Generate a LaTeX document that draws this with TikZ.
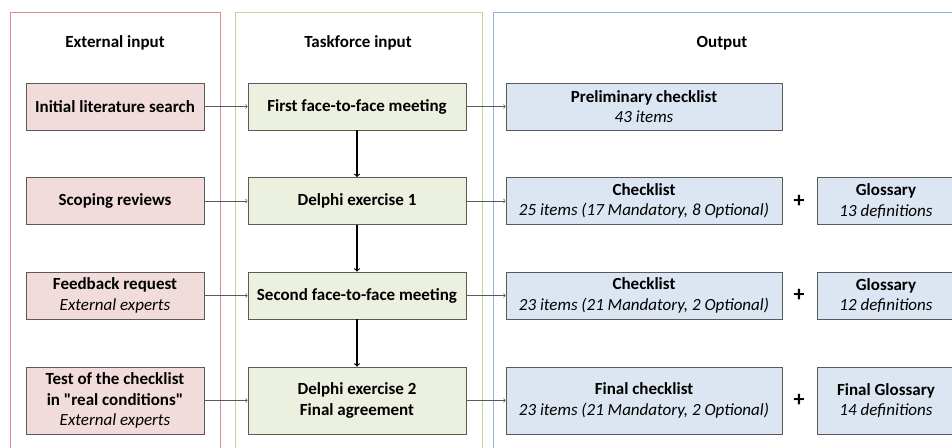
\documentclass[tikz,border=0pt]{standalone}
\usepackage{fontspec}
\setmainfont{Carlito}
\usetikzlibrary{arrows}

\definecolor{extfill}{HTML}{F2DCDB}
\definecolor{extline}{HTML}{E08A8C}
\definecolor{tskfill}{HTML}{EBF1DE}
\definecolor{tskline}{HTML}{C3D69B}
\definecolor{outfill}{HTML}{DCE6F2}
\definecolor{outline}{HTML}{95B3D7}
\definecolor{boxline}{HTML}{595959}

\newcommand{\boxfont}{\fontsize{17}{20.5}\selectfont}

\begin{document}
\begin{tikzpicture}[x=1pt, y=1pt,
  panel/.style={line width=0.8pt},
  head/.style={font=\bfseries\boxfont},
  extbox/.style={draw=boxline, fill=extfill, line width=0.8pt, minimum width=178pt, minimum height=47pt, inner sep=0pt, align=center, font=\boxfont},
  tskbox/.style={draw=boxline, fill=tskfill, line width=0.8pt, minimum width=218pt, minimum height=47pt, inner sep=0pt, align=center, font=\bfseries\boxfont},
  outbox/.style={draw=boxline, fill=outfill, line width=0.8pt, minimum width=276pt, minimum height=47pt, inner sep=0pt, align=center, font=\boxfont},
  globox/.style={outbox, minimum width=138pt},
  plus/.style={font=\bfseries\fontsize{22}{22}\selectfont},
  feed/.style={->, draw=boxline, line width=0.6pt}]
  \useasboundingbox (0,0) rectangle (952,447);
  \clip (0,0) rectangle (952,447);

  % columns
  \draw[panel, draw=extline] (10,-5) rectangle (220,435);
  \draw[panel, draw=tskline] (235,-5) rectangle (482,435);
  \draw[panel, draw=outline] (493,-5) rectangle (970,435);

  \node[head] (h1) at (115,404) {External input};
  \node[head] (h2) at (358,404) {Taskforce input};
  \node[head] (h3) at (722,404) {Output};

  % external input
  \node[extbox] (e1) at (115,340.5) {\textbf{Initial literature search}};
  \node[extbox] (e2) at (115,246) {\textbf{Scoping reviews}};
  \node[extbox] (e3) at (115,151.5) {\textbf{Feedback request}\\\textit{External experts}};
  \node[extbox, minimum height=67pt] (e4) at (115,46.5) {\textbf{Test of the checklist}\\\textbf{in \textquotedbl real conditions\textquotedbl}\\\textit{External experts}};

  % taskforce input
  \node[tskbox] (t1) at (357,340.5) {First face-to-face meeting};
  \node[tskbox] (t2) at (357,246) {Delphi exercise 1};
  \node[tskbox] (t3) at (357,151.5) {Second face-to-face meeting};
  \node[tskbox, minimum height=67pt] (t4) at (357,46.5) {Delphi exercise 2\\Final agreement};

  % output
  \node[outbox] (o1) at (644,340.5) {\textbf{Preliminary checklist}\\\textit{43 items}};
  \node[outbox] (o2) at (644,246) {\textbf{Checklist}\\\textit{25 items (17 Mandatory, 8 Optional)}};
  \node[outbox] (o3) at (644,151.5) {\textbf{Checklist}\\\textit{23 items (21 Mandatory, 2 Optional)}};
  \node[outbox, minimum height=67pt] (o4) at (644,46.5) {\textbf{Final checklist}\\\textit{23 items (21 Mandatory, 2 Optional)}};

  \node[plus] (p2) at (799,246) {+};
  \node[plus] (p3) at (799,151.5) {+};
  \node[plus] (p4) at (799,46.5) {+};

  \node[globox] (g2) at (886,246) {\textbf{Glossary}\\\textit{13 definitions}};
  \node[globox] (g3) at (886,151.5) {\textbf{Glossary}\\\textit{12 definitions}};
  \node[globox, minimum height=67pt] (g4) at (886,46.5) {\textbf{Final Glossary}\\\textit{14 definitions}};

  % arrows
  \draw[feed] (e1) -- (t1);
  \draw[feed] (e2) -- (t2);
  \draw[feed] (e3) -- (t3);
  \draw[feed] (e4) -- (t4);

  \draw[feed] (t1) -- (o1);
  \draw[feed] (t2) -- (o2);
  \draw[feed] (t3) -- (o3);
  \draw[feed] (t4) -- (o4);

  \draw[->, line width=1.2pt] (t1) -- (t2);
  \draw[->, line width=1.2pt] (t2) -- (t3);
  \draw[->, line width=1.2pt] (t3) -- (t4);
\end{tikzpicture}
\end{document}
